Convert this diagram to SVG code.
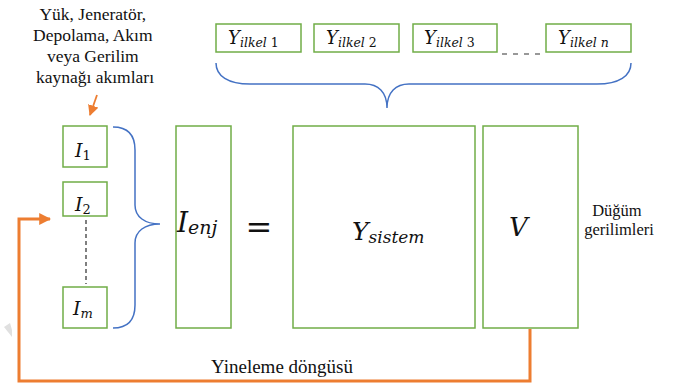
<svg xmlns="http://www.w3.org/2000/svg" width="682" height="385" viewBox="0 0 682 385">
<defs>
<style>
.box{fill:#fff;stroke:#70AD47;stroke-width:1.5}
.brace{fill:none;stroke:#4472C4;stroke-width:1.5}
.loop{fill:none;stroke:#ED7D31;stroke-width:3}
.lbl{fill:#111}
.math{font-style:italic;fill:#111}
.up{font-style:normal}
</style>
<marker id="ah" viewBox="0 0 10 10" refX="9" refY="5" markerWidth="4" markerHeight="4" orient="auto" markerUnits="strokeWidth">
<path d="M0,0 L10,5 L0,10 Z" fill="#ED7D31"/>
</marker>
<marker id="ah2" viewBox="0 0 10 10" refX="9" refY="5" markerWidth="6" markerHeight="6" orient="auto" markerUnits="strokeWidth">
<path d="M0,0 L10,5 L0,10 Z" fill="#ED7D31"/>
</marker>
</defs>
<rect width="682" height="385" fill="#fff"/>
<path d="M4,327 L10,323 L12,330 L12,337 Z" fill="#e0e0e0"/>

<g id="annotation">
<text class="lbl" font-family="'Liberation Serif', serif" font-size="17.5" text-anchor="middle">
<tspan x="95" y="20">Yük, Jeneratör,</tspan>
<tspan x="95" y="41">Depolama, Akım</tspan>
<tspan x="95" y="62">veya Gerilim</tspan>
<tspan x="95" y="83">kaynağı akımları</tspan>
</text>
</g>

<g id="y-ilkel-1"><rect class="box" x="216" y="24" width="85" height="28"/>
<text class="math" font-family="'DejaVu Serif', serif" x="228" y="44" font-size="18">Y<tspan font-size="12.5" dy="3">ilkel <tspan class="up">1</tspan></tspan></text></g>
<g id="y-ilkel-2"><rect class="box" x="314" y="24" width="85" height="28"/>
<text class="math" font-family="'DejaVu Serif', serif" x="326" y="44" font-size="18">Y<tspan font-size="12.5" dy="3">ilkel <tspan class="up">2</tspan></tspan></text></g>
<g id="y-ilkel-3"><rect class="box" x="413" y="24" width="84" height="28"/>
<text class="math" font-family="'DejaVu Serif', serif" x="424" y="44" font-size="18">Y<tspan font-size="12.5" dy="3">ilkel <tspan class="up">3</tspan></tspan></text></g>
<g id="y-ilkel-n"><rect class="box" x="546" y="24" width="85" height="28"/>
<text class="math" font-family="'DejaVu Serif', serif" x="558" y="44" font-size="18">Y<tspan font-size="12.5" dy="3">ilkel n</tspan></text></g>

<g id="i-1"><rect class="box" x="63" y="126" width="44" height="41"/>
<text class="math" font-family="'DejaVu Serif', serif" x="75" y="157" font-size="19">I<tspan class="up" font-size="13" dy="3">1</tspan></text></g>
<g id="i-2"><rect class="box" x="63" y="182" width="44" height="34"/>
<text class="math" font-family="'DejaVu Serif', serif" x="75" y="211" font-size="19">I<tspan class="up" font-size="13" dy="3">2</tspan></text></g>
<g id="i-m"><rect class="box" x="63" y="287" width="44" height="41"/>
<text class="math" font-family="'DejaVu Serif', serif" x="73" y="315" font-size="19">I<tspan font-size="13" dy="3">m</tspan></text></g>

<g id="i-enj"><rect class="box" x="176" y="126" width="55" height="202"/>
<text class="math" font-family="'DejaVu Serif', serif" x="177" y="232" font-size="28">I<tspan font-size="19" dy="2">enj</tspan></text></g>

<g id="equals"><text class="math up" font-family="'DejaVu Serif', serif" x="259" y="238" font-size="32" text-anchor="middle">=</text></g>

<g id="y-sistem"><rect class="box" x="293" y="126" width="182" height="202"/>
<text class="math" font-family="'DejaVu Serif', serif" x="352" y="240" font-size="25">Y<tspan font-size="17" dy="3">sistem</tspan></text></g>

<g id="v"><rect class="box" x="483" y="126" width="95" height="202"/>
<text class="math" font-family="'DejaVu Serif', serif" x="509" y="236" font-size="26">V</text></g>

<g id="dugum-label"><text class="lbl" font-family="'Liberation Serif', serif" font-size="16.5" text-anchor="middle">
<tspan x="619" y="216">Düğüm</tspan>
<tspan x="619" y="235">gerilimleri</tspan></text></g>

<g id="loop-label"><text class="lbl" font-family="'Liberation Serif', serif" x="282" y="373" font-size="19" text-anchor="middle">Yineleme döngüsü</text></g>

<g id="connectors">
<path class="brace" d="M216,63 C216,76 228,84 250,84 L365,84 C378,84 387,92 387,108 C387,92 396,84 409,84 L597,84 C619,84 631,76 631,63"/>
<path class="brace" d="M113,127 C128,127 135,135 135,150 L135,205 C135,217 145,224 160,224 C145,224 135,231 135,243 L135,305 C135,320 128,328 113,328"/>
<line x1="86" y1="220" x2="86" y2="284" stroke="#555" stroke-width="1.5" stroke-dasharray="4,3"/>
<line x1="502" y1="54" x2="544" y2="54" stroke="#333" stroke-width="1.2" stroke-dasharray="5,6"/>
<line x1="97" y1="95" x2="90" y2="115" stroke="#ED7D31" stroke-width="1.8" marker-end="url(#ah2)"/>
<polyline class="loop" points="530,329 530,381 19,381 19,219 50,219" marker-end="url(#ah)"/>
</g>
</svg>
